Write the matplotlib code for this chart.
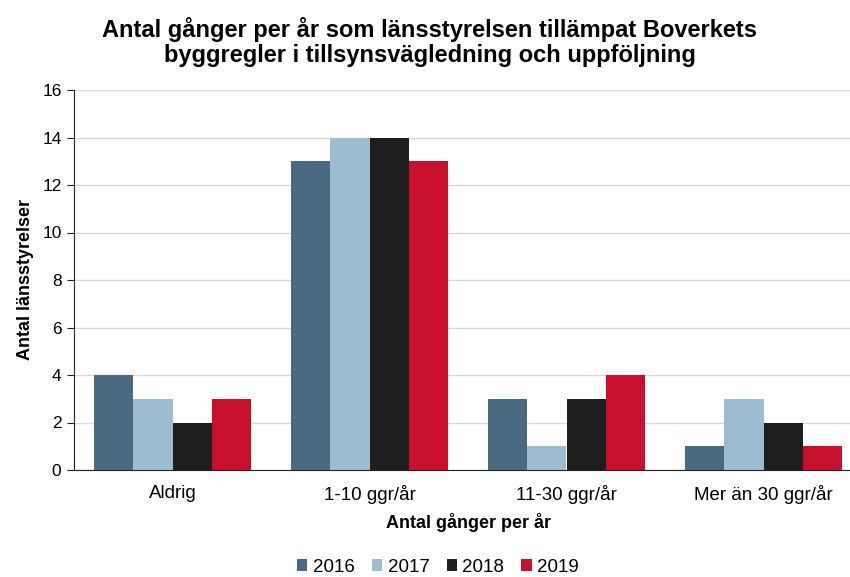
import numpy as np
import matplotlib.pyplot as plt

plt.rcParams['font.family'] = ['Liberation Sans', 'DejaVu Sans']

categories = ['Aldrig', '1-10 ggr/år', '11-30 ggr/år', 'Mer än 30 ggr/år']
years = ['2016', '2017', '2018', '2019']
v2016 = [4, 13, 3, 1]
v2017 = [3, 14, 1, 3]
v2018 = [2, 14, 3, 2]
v2019 = [3, 13, 4, 1]
series = [v2016, v2017, v2018, v2019]
colors = ['#4a6a82', '#9dbcd0', '#1e1e1e', '#c8102e']

fig = plt.figure(figsize=(8.5, 5.77), dpi=100)
ax = fig.add_axes([74 / 850, 107 / 577, 788 / 850, 380 / 577])

x = np.arange(len(categories))
w = 0.2
for i, (vals, c, yr) in enumerate(zip(series, colors, years)):
    ax.bar(x + (i - 1.5) * w, vals, w, color=c, label=yr, zorder=3)

ax.set_xlim(-0.5, 3.5)
ax.set_ylim(0, 16)
ax.set_yticks(range(0, 17, 2))
ax.set_xticks(x)
ax.set_xticklabels(categories)
ax.grid(axis='y', color='#d9d9d9', linewidth=1, zorder=0)
for s in ['top', 'right']:
    ax.spines[s].set_visible(False)
ax.spines['left'].set_color('#222222')
ax.spines['bottom'].set_color('#222222')
ax.tick_params(axis='y', labelsize=12.5, length=5, color='#222222', pad=4)
ax.tick_params(axis='x', labelsize=13.5, length=0, pad=11)

ax.set_ylabel('Antal länsstyrelser', fontsize=13, fontweight='bold', labelpad=6)
ax.set_xlabel('Antal gånger per år', fontsize=13, fontweight='bold', labelpad=6)

fig.text(430 / 850, 1 - 42 / 577,
         'Antal gånger per år som länsstyrelsen tillämpat Boverkets\nbyggregler i tillsynsvägledning och uppföljning',
         ha='center', va='center', fontsize=17, fontweight='bold', linespacing=1.15)

fig.legend(loc='center', bbox_to_anchor=(438 / 850, 1 - 567 / 577), ncol=4,
           frameon=False, fontsize=13.5, handlelength=0.55, handleheight=0.55,
           handletextpad=0.3, columnspacing=0.9)

fig.savefig('out.png', dpi=100)
